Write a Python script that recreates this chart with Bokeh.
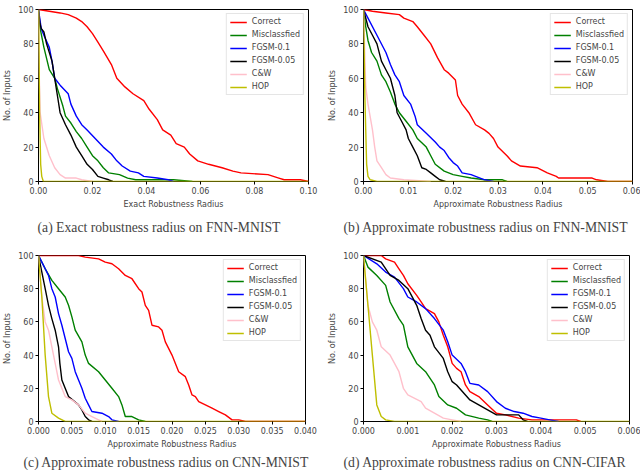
from bokeh.plotting import figure
from bokeh.layouts import row, column
from bokeh.models import FixedTicker, PrintfTickFormatter, Title, Legend, LegendItem, Range1d
from bokeh.embed import file_html
from bokeh.resources import INLINE

SERIES = ["Correct", "Misclassfied", "FGSM-0.1", "FGSM-0.05", "C&W", "HOP"]
COLORS = ["#ff0000", "#008000", "#0000ff", "#000000", "#ffc0cb", "#bfbf00"]
Y_TICKS = [0, 20, 40, 60, 80, 100]

# ---------- (a) Exact robustness radius on FNN-MNIST ----------
A_X_TICKS = [0.0, 0.02, 0.04, 0.06, 0.08, 0.10]
A_CORRECT_X = [0, 0.004, 0.008, 0.011, 0.014, 0.016, 0.018, 0.020, 0.022, 0.024, 0.027, 0.029, 0.032, 0.035, 0.039, 0.041, 0.044, 0.046, 0.049, 0.051, 0.054, 0.056, 0.059, 0.063, 0.068, 0.072, 0.075, 0.085, 0.089, 0.091, 0.097, 0.100]
A_CORRECT_Y = [100, 99, 98, 97, 95, 93, 90, 86, 81, 76, 68, 60, 55, 51, 47, 42, 36, 30, 27, 22, 20, 16, 12, 10, 8, 6, 5, 4, 2, 1, 1, 0]
A_MIS_X = [0, 0.0005, 0.001, 0.002, 0.004, 0.006, 0.007, 0.009, 0.010, 0.012, 0.014, 0.016, 0.018, 0.020, 0.022, 0.024, 0.026, 0.030, 0.033, 0.036, 0.050, 0.057]
A_MIS_Y = [100, 90, 86, 78, 65, 60, 54, 44, 38, 34, 29, 25, 20, 15, 12, 8, 5, 4, 2, 1, 1, 0]
A_F1_X = [0, 0.001, 0.002, 0.004, 0.005, 0.006, 0.008, 0.011, 0.012, 0.014, 0.016, 0.018, 0.021, 0.024, 0.027, 0.029, 0.031, 0.034, 0.037, 0.039, 0.044, 0.048, 0.050]
A_F1_Y = [100, 89, 85, 78, 70, 60, 56, 51, 45, 38, 33, 30, 25, 20, 16, 12, 9, 6, 5, 3, 2, 1, 0]
A_F05_X = [0, 0.0005, 0.001, 0.002, 0.003, 0.005, 0.006, 0.007, 0.008, 0.010, 0.012, 0.014, 0.016, 0.018, 0.020, 0.022, 0.024, 0.026, 0.0275]
A_F05_Y = [100, 92, 89, 87, 80, 70, 60, 50, 40, 33, 27, 20, 15, 10, 7, 3, 2, 1, 0]
A_CW_X = [0, 0.0003, 0.0006, 0.002, 0.004, 0.006, 0.008, 0.010, 0.014, 0.016, 0.020]
A_CW_Y = [100, 60, 40, 25, 15, 8, 4, 2, 2, 1, 0]
A_HOP_X = [0, 0.0002, 0.0004, 0.0008, 0.0012, 0.0018, 0.100]
A_HOP_Y = [100, 75, 40, 10, 3, 0, 0]

# ---------- (b) Approximate robustness radius on FNN-MNIST ----------
B_X_TICKS = [0.0, 0.01, 0.02, 0.03, 0.04, 0.05, 0.06]
B_CORRECT_X = [0, 0.002, 0.005, 0.008, 0.009, 0.011, 0.012, 0.0135, 0.015, 0.0165, 0.018, 0.019, 0.0205, 0.021, 0.022, 0.0235, 0.025, 0.027, 0.028, 0.029, 0.030, 0.032, 0.033, 0.035, 0.0387, 0.041, 0.043, 0.0435, 0.051, 0.052, 0.0545, 0.060]
B_CORRECT_Y = [100, 99, 98, 97, 95, 93, 90, 85, 80, 72, 65, 63, 59, 50, 45, 40, 33, 30, 28, 25, 20, 15, 12, 9, 8, 5, 3, 2, 2, 1, 0, 0]
B_MIS_X = [0, 0.0005, 0.001, 0.0018, 0.003, 0.004, 0.005, 0.006, 0.007, 0.008, 0.0095, 0.011, 0.012, 0.014, 0.015, 0.016, 0.018, 0.020, 0.022, 0.024, 0.027, 0.031, 0.032]
B_MIS_Y = [100, 90, 82, 75, 70, 62, 58, 52, 45, 40, 35, 30, 25, 20, 15, 10, 6, 4, 3, 2, 1, 1, 0]
B_F1_X = [0, 0.001, 0.003, 0.005, 0.006, 0.007, 0.008, 0.009, 0.0105, 0.0115, 0.012, 0.014, 0.016, 0.017, 0.018, 0.019, 0.020, 0.021, 0.022, 0.024, 0.025, 0.026, 0.027, 0.029]
B_F1_Y = [100, 95, 85, 75, 68, 62, 58, 50, 45, 38, 33, 28, 23, 20, 18, 14, 11, 9, 5, 4, 3, 2, 1, 0]
B_F05_X = [0, 0.001, 0.002, 0.003, 0.004, 0.005, 0.006, 0.007, 0.0075, 0.0085, 0.0095, 0.010, 0.011, 0.012, 0.013, 0.014, 0.015, 0.016, 0.017, 0.0183]
B_F05_Y = [100, 90, 85, 80, 70, 65, 60, 50, 40, 35, 30, 25, 20, 15, 8, 7, 5, 3, 1, 0]
B_CW_X = [0, 0.0005, 0.001, 0.002, 0.0025, 0.003, 0.004, 0.005, 0.006, 0.009, 0.015]
B_CW_Y = [100, 55, 45, 30, 20, 12, 8, 4, 2, 1, 0]
B_HOP_X = [0, 0.0003, 0.0007, 0.001, 0.0015, 0.003, 0.060]
B_HOP_Y = [100, 50, 10, 3, 1, 0, 0]

# ---------- (c) Approximate robustness radius on CNN-MNIST ----------
C_X_TICKS = [0.0, 0.005, 0.010, 0.015, 0.020, 0.025, 0.030, 0.035, 0.040]
C_CORRECT_X = [0, 0.006, 0.007, 0.009, 0.010, 0.011, 0.012, 0.013, 0.014, 0.015, 0.0155, 0.016, 0.0165, 0.017, 0.018, 0.0185, 0.019, 0.020, 0.021, 0.022, 0.0225, 0.023, 0.0235, 0.024, 0.025, 0.026, 0.027, 0.028, 0.029, 0.030, 0.031, 0.040]
C_CORRECT_Y = [100, 100, 99, 98, 96, 95, 92, 88, 86, 80, 78, 70, 67, 58, 57, 55, 48, 40, 30, 27, 22, 16, 15, 12, 10, 8, 6, 4, 1, 1, 0, 0]
C_MIS_X = [0, 0.001, 0.002, 0.003, 0.004, 0.0045, 0.005, 0.0055, 0.0065, 0.007, 0.0075, 0.009, 0.010, 0.011, 0.012, 0.0125, 0.013, 0.014, 0.015, 0.016]
C_MIS_Y = [100, 92, 85, 80, 75, 70, 63, 55, 48, 40, 35, 30, 25, 20, 15, 10, 3, 3, 1, 0]
C_F1_X = [0, 0.0005, 0.001, 0.0015, 0.002, 0.0025, 0.003, 0.0035, 0.004, 0.0045, 0.005, 0.0055, 0.006, 0.0065, 0.007, 0.0075, 0.008, 0.0095, 0.0105, 0.011, 0.012]
C_F1_Y = [100, 96, 92, 88, 80, 75, 65, 58, 50, 42, 38, 30, 25, 20, 14, 10, 6, 5, 3, 1, 0]
C_F05_X = [0, 0.0005, 0.001, 0.0015, 0.002, 0.0025, 0.003, 0.0032, 0.0035, 0.004, 0.0045, 0.006, 0.0065, 0.007, 0.0075, 0.008]
C_F05_Y = [100, 90, 80, 70, 62, 55, 45, 35, 25, 20, 15, 10, 7, 3, 1, 0]
C_CW_X = [0, 0.0005, 0.001, 0.0015, 0.002, 0.0025, 0.003, 0.0035, 0.004, 0.005, 0.006, 0.007, 0.008, 0.009, 0.0095]
C_CW_Y = [100, 75, 60, 55, 45, 35, 25, 20, 15, 13, 10, 5, 3, 1, 0]
C_HOP_X = [0, 0.0005, 0.001, 0.0015, 0.002, 0.003, 0.004, 0.040]
C_HOP_Y = [100, 75, 40, 15, 5, 2, 0, 0]

# ---------- (d) Approximate robustness radius on CNN-CIFAR ----------
D_X_TICKS = [0.0, 0.001, 0.002, 0.003, 0.004, 0.005, 0.006]
D_CORRECT_X = [0, 0.0004, 0.0005, 0.0007, 0.0008, 0.0009, 0.001, 0.0012, 0.0013, 0.0014, 0.0016, 0.0017, 0.0018, 0.0019, 0.002, 0.0021, 0.0022, 0.0023, 0.0024, 0.0026, 0.0028, 0.003, 0.0032, 0.0035, 0.0038, 0.0048, 0.0049]
D_CORRECT_Y = [100, 100, 98, 96, 92, 88, 83, 76, 72, 68, 65, 60, 52, 45, 35, 32, 30, 22, 18, 15, 10, 5, 4, 2, 1, 1, 0]
D_MIS_X = [0, 0.0001, 0.0003, 0.0005, 0.0006, 0.0008, 0.0009, 0.001, 0.0012, 0.0014, 0.0016, 0.0017, 0.0019, 0.0021, 0.0023, 0.0026, 0.0028, 0.0029]
D_MIS_Y = [100, 93, 88, 82, 72, 62, 58, 45, 35, 30, 22, 15, 10, 8, 4, 2, 1, 0]
D_F1_X = [0, 0.0003, 0.0005, 0.0007, 0.0009, 0.001, 0.0012, 0.0014, 0.0016, 0.0018, 0.0019, 0.002, 0.0022, 0.0023, 0.0024, 0.0026, 0.0028, 0.003, 0.0032, 0.0034, 0.0036, 0.0038, 0.004, 0.0042, 0.0044]
D_F1_Y = [100, 95, 90, 87, 80, 75, 72, 68, 62, 55, 48, 40, 35, 30, 23, 22, 18, 12, 8, 6, 5, 3, 2, 1, 0]
D_F05_X = [0, 0.0004, 0.0006, 0.0008, 0.001, 0.0012, 0.0013, 0.0014, 0.0015, 0.0016, 0.0018, 0.0019, 0.002, 0.0021, 0.0024, 0.0026, 0.0028, 0.003, 0.0035, 0.0036, 0.0037]
D_F05_Y = [100, 96, 88, 85, 80, 70, 62, 55, 52, 45, 38, 30, 24, 22, 13, 10, 7, 4, 4, 1, 0]
D_CW_X = [0, 0.0001, 0.0002, 0.0003, 0.0004, 0.0006, 0.0008, 0.0009, 0.001, 0.0013, 0.0014, 0.0016, 0.0018, 0.002, 0.0022]
D_CW_Y = [100, 70, 60, 55, 45, 40, 30, 20, 16, 12, 8, 5, 2, 1, 0]
D_HOP_X = [0, 0.0001, 0.0002, 0.0003, 0.0004, 0.0005, 0.0007, 0.006]
D_HOP_Y = [100, 70, 40, 10, 3, 1, 0, 0]

PANELS = [
    dict(xs=[A_CORRECT_X, A_MIS_X, A_F1_X, A_F05_X, A_CW_X, A_HOP_X],
         ys=[A_CORRECT_Y, A_MIS_Y, A_F1_Y, A_F05_Y, A_CW_Y, A_HOP_Y],
         ticks=A_X_TICKS, fmt="%.2f", xlabel="Exact Robustness Radius",
         caption="(a)  Exact robustness radius on FNN-MNIST"),
    dict(xs=[B_CORRECT_X, B_MIS_X, B_F1_X, B_F05_X, B_CW_X, B_HOP_X],
         ys=[B_CORRECT_Y, B_MIS_Y, B_F1_Y, B_F05_Y, B_CW_Y, B_HOP_Y],
         ticks=B_X_TICKS, fmt="%.2f", xlabel="Approximate Robustness Radius",
         caption="(b)  Approximate robustness radius on FNN-MNIST"),
    dict(xs=[C_CORRECT_X, C_MIS_X, C_F1_X, C_F05_X, C_CW_X, C_HOP_X],
         ys=[C_CORRECT_Y, C_MIS_Y, C_F1_Y, C_F05_Y, C_CW_Y, C_HOP_Y],
         ticks=C_X_TICKS, fmt="%.3f", xlabel="Approximate Robustness Radius",
         caption="(c)  Approximate robustness radius on CNN-MNIST"),
    dict(xs=[D_CORRECT_X, D_MIS_X, D_F1_X, D_F05_X, D_CW_X, D_HOP_X],
         ys=[D_CORRECT_Y, D_MIS_Y, D_F1_Y, D_F05_Y, D_CW_Y, D_HOP_Y],
         ticks=D_X_TICKS, fmt="%.3f", xlabel="Approximate Robustness Radius",
         caption="(d)  Approximate robustness radius on CNN-CIFAR"),
]

# layout geometry: (width, height, border_left, border_right, border_top, border_bottom, caption_standoff, caption_offset)
GEOM = [
    (320, 240, 38, 12, 9, 57, 12, -1),
    (320, 240, 43, 8, 9, 57, 12, -20),
    (320, 230, 38, 15, 15, 44, 2, -15),
    (320, 230, 43, 11, 13, 44, 2, -20),
]

TICK_FONT = "DejaVu Sans"
figs = []
for panel, (w, h, bl, br, bt, bb, cs, co) in zip(PANELS, GEOM):
    p = figure(width=w, height=h, output_backend="svg", toolbar_location=None,
               min_border_left=bl, min_border_right=br, min_border_top=bt,
               min_border_bottom=bb,
               x_range=Range1d(panel["ticks"][0], panel["ticks"][-1]),
               y_range=Range1d(0, 100))
    p.outline_line_color = "#000000"
    p.outline_line_width = 1
    p.xgrid.visible = False
    p.ygrid.visible = False
    items = []
    for name, color, xs, ys in zip(SERIES, COLORS, panel["xs"], panel["ys"]):
        r = p.line(xs, ys, line_color=color, line_width=1.4)
        items.append(LegendItem(label=name, renderers=[r]))
    legend = Legend(items=items, location="top_right",
                    label_text_font=TICK_FONT, label_text_font_size="8px",
                    label_height=8, glyph_height=8, glyph_width=17,
                    label_standoff=5, spacing=4, padding=3, margin=4,
                    border_line_color="#cccccc", border_line_width=1,
                    background_fill_alpha=1.0)
    p.add_layout(legend)
    for ax in (p.xaxis[0], p.yaxis[0]):
        ax.major_label_text_font = TICK_FONT
        ax.major_label_text_font_size = "8px"
        ax.axis_label_text_font = TICK_FONT
        ax.axis_label_text_font_size = "8px"
        ax.axis_label_text_font_style = "normal"
        ax.minor_tick_line_color = None
        ax.major_tick_in = 0
        ax.major_tick_out = 3
        ax.axis_line_color = None
        ax.major_label_standoff = 2
        ax.axis_label_standoff = 3
    p.xaxis[0].ticker = FixedTicker(ticks=panel["ticks"])
    p.xaxis[0].formatter = PrintfTickFormatter(format=panel["fmt"])
    p.xaxis[0].axis_label = panel["xlabel"]
    p.yaxis[0].ticker = FixedTicker(ticks=Y_TICKS)
    p.yaxis[0].axis_label = "No. of Inputs"
    cap = Title(text=panel["caption"], align="left", text_font="Liberation Serif",
                text_font_size="13.7px", text_font_style="normal", standoff=cs,
                offset=co)
    p.add_layout(cap, "below")
    figs.append(p)

layout = column(row(figs[0], figs[1], spacing=0), row(figs[2], figs[3], spacing=0),
                spacing=0)

with open("out.html", "w") as f:
    f.write(file_html(layout, INLINE))
